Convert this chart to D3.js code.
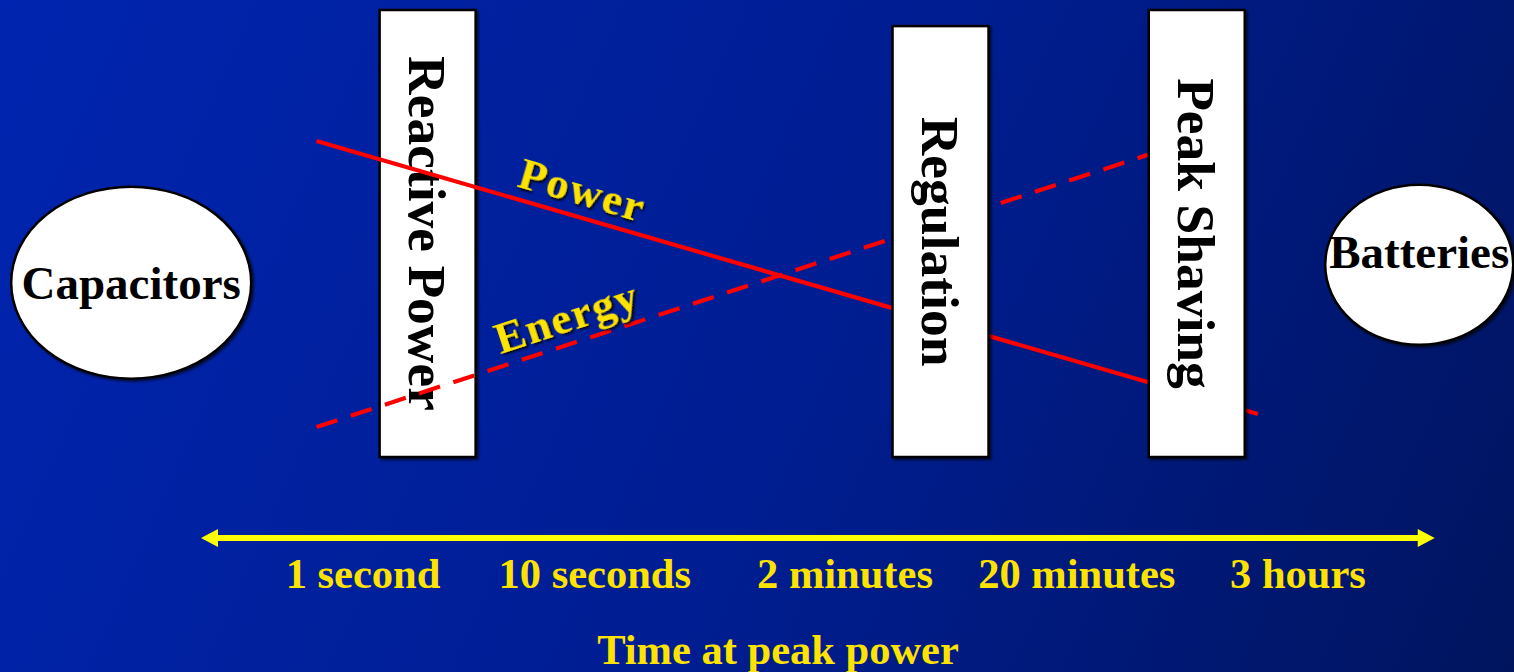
<!DOCTYPE html>
<html>
<head>
<meta charset="utf-8">
<script src="https://cdn.jsdelivr.net/npm/d3@7"></script>
<style>
  html, body { margin: 0; padding: 0; overflow: hidden; background: #001a80; }
  svg { display: block; }
</style>
</head>
<body>
<svg id="chart" width="1514" height="672"></svg>
<script>
// Time-at-peak-power axis
const tickLabels = ["1 second", "10 seconds", "2 minutes", "20 minutes", "3 hours"];
const tickSeconds = [1, 10, 120, 1200, 10800];
const axisTitle = "Time at peak power";
const axisExtentSeconds = [0.2, 42000];

// Applications (white bars), placed by typical duration
const applications = ["Reactive Power", "Regulation", "Peak Shaving"];
const applicationSeconds = [1.9, 310, 3950];
const applicationTop = [100, 96.4, 100];

// Storage technologies at either end of the range
const storageNames = ["Capacitors", "Batteries"];
const storageSeconds = [0.1, 36000];
const storageLevel = [39, 43];

// Relative power / energy trend lines
const seriesNames = ["Power", "Energy"];
const powerSeconds = [0.63, 7250];
const powerLevel = [70.7, 9.6];
const energySeconds = [0.63, 2430];
const energyLevel = [6.7, 67.6];
const seriesLabelSeconds = 8.2;

const W = 1514, H = 672;
const serif = "'Liberation Serif', 'Times New Roman', serif";
const yellowText = "#FFE300";
const arrowYellow = "#FFFF00";
const red = "#FF0000";

const svg = d3.select("#chart");
const defs = svg.append("defs");

const bg = defs.append("linearGradient")
  .attr("id", "bg").attr("gradientUnits", "userSpaceOnUse")
  .attr("x1", 0).attr("y1", 0).attr("x2", W).attr("y2", H);
bg.append("stop").attr("offset", "0%").attr("stop-color", "#0024AF");
bg.append("stop").attr("offset", "55%").attr("stop-color", "#001D90");
bg.append("stop").attr("offset", "100%").attr("stop-color", "#00145E");

const textShadow = defs.append("filter").attr("id", "textShadow")
  .attr("x", "-20%").attr("y", "-20%").attr("width", "140%").attr("height", "140%");
textShadow.append("feDropShadow").attr("dx", 2).attr("dy", 2)
  .attr("stdDeviation", 0.8).attr("flood-color", "#000").attr("flood-opacity", 0.9);

const boxShadow = defs.append("filter").attr("id", "boxShadow")
  .attr("x", "-10%").attr("y", "-10%").attr("width", "120%").attr("height", "120%");
boxShadow.append("feDropShadow").attr("dx", 2).attr("dy", 2)
  .attr("stdDeviation", 1).attr("flood-color", "#000").attr("flood-opacity", 0.6);

svg.append("rect").attr("width", W).attr("height", H).attr("fill", "url(#bg)");

// Scales
const x = d3.scaleLog().domain([1, 10800]).range([363, 1298]);
const y = d3.scaleLinear().domain([0, 100]).range([457, 10]);

const barWidth = 96;
const barData = applications.map((name, i) => ({ name, t: applicationSeconds[i], top: applicationTop[i] }));

function drawBars(parent, data) {
  const g = parent.selectAll("g").data(data).join("g");
  g.append("rect")
    .attr("x", d => x(d.t) - barWidth / 2)
    .attr("y", d => y(d.top))
    .attr("width", barWidth)
    .attr("height", d => y(0) - y(d.top))
    .attr("fill", "#fff")
    .attr("stroke", "#000")
    .attr("stroke-width", 2.5)
    .attr("filter", "url(#boxShadow)");
  g.append("text")
    .attr("transform", d => `translate(${x(d.t)},${(y(d.top) + y(0)) / 2}) rotate(90)`)
    .attr("text-anchor", "middle")
    .attr("dy", "0.35em")
    .attr("font-family", serif)
    .attr("font-weight", "bold")
    .attr("font-size", 53.5)
    .attr("fill", "#000")
    .text(d => d.name);
}

// The first application bar sits beneath the trend lines, the others above them
drawBars(svg.append("g"), barData.slice(0, 1));

const series = [
  { name: seriesNames[0], pts: powerSeconds.map((t, i) => ({ t, v: powerLevel[i] })), dash: null },
  { name: seriesNames[1], pts: energySeconds.map((t, i) => ({ t, v: energyLevel[i] })), dash: "22,14" }
];

const line = d3.line().x(d => x(d.t)).y(d => y(d.v));
svg.append("g").selectAll("path").data(series).join("path")
  .attr("d", d => line(d.pts))
  .attr("fill", "none")
  .attr("stroke", red)
  .attr("stroke-width", 4.2)
  .attr("stroke-dasharray", d => d.dash);

drawBars(svg.append("g"), barData.slice(1));

// Storage ellipses
const storage = storageNames.map((name, i) => ({ name, t: storageSeconds[i], v: storageLevel[i] }));
const ellipseStyle = {
  Capacitors: { rx: 120, ry: 96, dy: 0 },
  Batteries: { rx: 94, ry: 80, dy: -13 }
};
const sg = svg.append("g").selectAll("g").data(storage).join("g");
sg.append("ellipse")
  .attr("cx", d => x(d.t)).attr("cy", d => y(d.v))
  .attr("rx", d => ellipseStyle[d.name].rx).attr("ry", d => ellipseStyle[d.name].ry)
  .attr("fill", "#fff").attr("stroke", "#000").attr("stroke-width", 2.5)
  .attr("filter", "url(#boxShadow)");
sg.append("text")
  .attr("x", d => x(d.t)).attr("y", d => y(d.v) + ellipseStyle[d.name].dy)
  .attr("dy", "0.35em")
  .attr("text-anchor", "middle")
  .attr("font-family", serif).attr("font-weight", "bold").attr("font-size", 47)
  .attr("fill", "#000")
  .text(d => d.name);

// Series labels, set along each line
series.forEach(s => {
  const [a, b] = s.pts;
  const x1 = x(a.t), y1 = y(a.v), x2 = x(b.t), y2 = y(b.v);
  const f = (Math.log(seriesLabelSeconds) - Math.log(a.t)) / (Math.log(b.t) - Math.log(a.t));
  const v = a.v + f * (b.v - a.v);
  const ang = Math.atan2(y2 - y1, x2 - x1);
  const off = 12;
  const px = x(seriesLabelSeconds) + Math.sin(ang) * off;
  const py = y(v) - Math.cos(ang) * off;
  svg.append("text")
    .attr("transform", `translate(${px},${py}) rotate(${ang * 180 / Math.PI})`)
    .attr("text-anchor", "middle")
    .attr("font-family", serif).attr("font-weight", "bold").attr("font-size", 45)
    .attr("letter-spacing", 1.5)
    .attr("fill", yellowText)
    .attr("filter", "url(#textShadow)")
    .text(s.name);
});

// Double-headed time axis
const axisY = 538;
const ax0 = x(axisExtentSeconds[0]), ax1 = x(axisExtentSeconds[1]);
const head = 17, half = 9;
const axisG = svg.append("g");
axisG.append("line")
  .attr("x1", ax0 + head - 1).attr("x2", ax1 - head + 1)
  .attr("y1", axisY).attr("y2", axisY)
  .attr("stroke", arrowYellow).attr("stroke-width", 6);
axisG.append("path")
  .attr("d", `M${ax0},${axisY} L${ax0 + head},${axisY - half} L${ax0 + head},${axisY + half} Z`)
  .attr("fill", arrowYellow);
axisG.append("path")
  .attr("d", `M${ax1},${axisY} L${ax1 - head},${axisY - half} L${ax1 - head},${axisY + half} Z`)
  .attr("fill", arrowYellow);

axisG.selectAll("text.tick").data(tickLabels).join("text")
  .attr("class", "tick")
  .attr("x", (d, i) => x(tickSeconds[i]))
  .attr("y", 588)
  .attr("text-anchor", "middle")
  .attr("font-family", serif).attr("font-weight", "bold").attr("font-size", 42.5)
  .attr("fill", yellowText)
  .text(d => d);

axisG.append("text")
  .attr("x", 778).attr("y", 664)
  .attr("text-anchor", "middle")
  .attr("font-family", serif).attr("font-weight", "bold").attr("font-size", 42.5)
  .attr("fill", yellowText)
  .text(axisTitle);
</script>
</body>
</html>
